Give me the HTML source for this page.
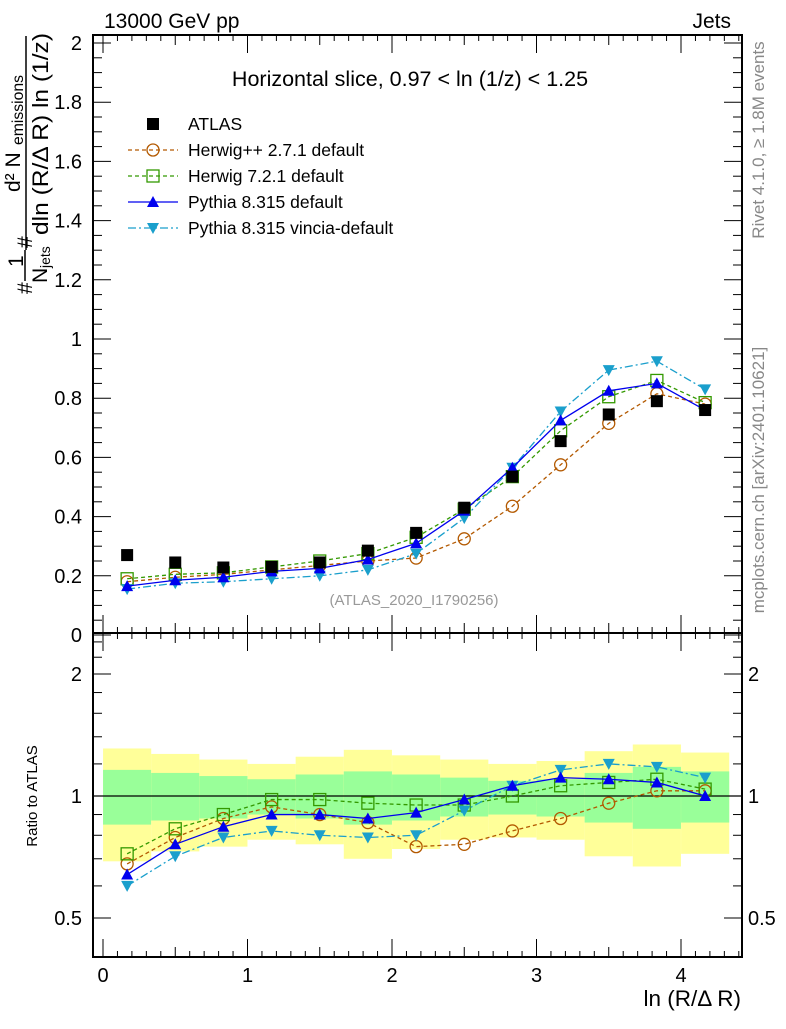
<!DOCTYPE html>
<html><head><meta charset="utf-8"><style>
body{margin:0;background:#fff;}
svg text{font-family:"Liberation Sans",sans-serif;}
</style></head><body>
<svg id="c" width="786" height="1024" xmlns="http://www.w3.org/2000/svg"></svg>
<script>
const xCenters=[0.167,0.5,0.833,1.167,1.5,1.833,2.167,2.5,2.833,3.167,3.5,3.833,4.167];
const binHalf=1/6;
const atlas=[0.27,0.245,0.228,0.23,0.245,0.285,0.345,0.43,0.535,0.655,0.745,0.79,0.76];
const herwigpp=[0.18,0.195,0.205,0.22,0.235,0.25,0.26,0.325,0.435,0.575,0.715,0.815,0.78];
const herwig7=[0.19,0.205,0.21,0.23,0.25,0.275,0.33,0.425,0.535,0.69,0.805,0.86,0.785];
const pythia=[0.165,0.185,0.195,0.215,0.225,0.255,0.31,0.42,0.565,0.725,0.825,0.85,0.76];
const vincia=[0.155,0.175,0.18,0.19,0.2,0.22,0.275,0.395,0.565,0.755,0.895,0.925,0.83];
const rHerwigpp=[0.68,0.79,0.88,0.94,0.90,0.86,0.75,0.76,0.82,0.88,0.96,1.03,1.03];
const rHerwig7=[0.72,0.83,0.90,0.98,0.98,0.96,0.95,0.95,1.0,1.06,1.08,1.10,1.04];
const rPythia=[0.64,0.76,0.84,0.90,0.90,0.88,0.91,0.98,1.06,1.11,1.10,1.08,1.0];
const rVincia=[0.60,0.71,0.79,0.82,0.80,0.79,0.80,0.92,1.06,1.16,1.20,1.18,1.11];
const yellowHi=[1.31,1.27,1.23,1.20,1.25,1.30,1.26,1.23,1.20,1.22,1.29,1.34,1.28];
const yellowLo=[0.69,0.73,0.75,0.78,0.76,0.70,0.74,0.78,0.79,0.78,0.71,0.67,0.72];
const greenHi=[1.16,1.14,1.12,1.10,1.13,1.15,1.13,1.11,1.09,1.10,1.14,1.18,1.15];
const greenLo=[0.85,0.87,0.88,0.90,0.88,0.85,0.87,0.89,0.90,0.89,0.86,0.83,0.86];
const mainTicks=["0","0.2","0.4","0.6","0.8","1","1.2","1.4","1.6","1.8","2"];
const ratioTicks=["0.5","1","2"];
const xTicks=["0","1","2","3","4"];

const L=93,R=742,T=35,MB=633,RB=957;
const X=v=>103+v*144.5;
const Y=v=>635-v*296;
const YR=v=>796-122*Math.log2(v);
const svg=document.getElementById('c');
const NS='http://www.w3.org/2000/svg';
function mk(tag,at,parent){const e=document.createElementNS(NS,tag);for(const k in at)e.setAttribute(k,at[k]);(parent||svg).appendChild(e);return e;}
function txt(s,at,parent){const e=mk('text',at,parent);e.textContent=s;return e;}

const bands=mk('g',{});


xCenters.forEach((c,i)=>{
  const x0=X(c-binHalf),x1=X(c+binHalf);
  const y=mk('rect',{x:x0,y:YR(yellowHi[i]),width:x1-x0,height:YR(yellowLo[i])-YR(yellowHi[i]),fill:'#ffff99'},bands);
  
  
  const g=mk('rect',{x:x0,y:YR(greenHi[i]),width:x1-x0,height:YR(greenLo[i])-YR(greenHi[i]),fill:'#99ff99'},bands);
  
  
});
mk('line',{x1:L,x2:R,y1:YR(1),y2:YR(1),stroke:'#000','stroke-width':1.2});

const f1=mk('rect',{x:L,y:T,width:R-L,height:MB-T,fill:'none',stroke:'#000','stroke-width':2});


const f2=mk('rect',{x:L,y:MB,width:R-L,height:RB-MB,fill:'none',stroke:'#000','stroke-width':2});



for(let k=0;k<=44;k++){
  const v=k/10,x=X(v);if(x>R)break;
  const big=k%10==0,mid=k%5==0;
  const len=big?18:(mid?10:6);
  [[T,1],[MB,-1],[MB,1],[RB,-1]].forEach(([y0,d])=>mk('line',{x1:x,x2:x,y1:y0,y2:y0+d*len,stroke:'#000','stroke-width':1}));
}
xTicks.forEach(s=>{const t=txt(s,{x:X(+s),y:982,'font-size':20,'text-anchor':'middle'});

});
for(let k=0;k<=40;k++){const v=k*0.05,y=Y(v);if(y<T)break;const len=k%4==0?18:9;
  mk('line',{x1:L,x2:L+len,y1:y,y2:y,stroke:'#000'});mk('line',{x1:R,x2:R-len,y1:y,y2:y,stroke:'#000'});}
mainTicks.forEach(s=>{const t=txt(s,{x:82,y:Y(+s)+7,'font-size':20,'text-anchor':'end'});

});
[0.4,0.5,0.6,0.7,0.8,0.9,1,1.2,1.4,1.6,1.8,2,2.2,2.4].forEach(v=>{const y=YR(v);const big=(v==0.5||v==1||v==2);const len=big?18:9;
  mk('line',{x1:L,x2:L+len,y1:y,y2:y,stroke:'#000'});mk('line',{x1:R,x2:R-len,y1:y,y2:y,stroke:'#000'});});
ratioTicks.forEach(s=>{const t=txt(s,{x:82,y:YR(+s)+7,'font-size':20,'text-anchor':'end'});


const t2=txt(s,{x:748,y:YR(+s)+7,'font-size':20});

});

function marker(kind,x,y,col,g){
  if(kind=='sq')return mk('rect',{x:x-6,y:y-6,width:12,height:12,fill:'#000'},g);
  if(kind=='circ')return mk('circle',{cx:x,cy:y,r:6,fill:'none',stroke:col,'stroke-width':1.3},g);
  if(kind=='osq')return mk('rect',{x:x-6,y:y-6,width:12,height:12,fill:'none',stroke:col,'stroke-width':1.3},g);
  if(kind=='tri')return mk('path',{d:`M${x-6},${y+5}L${x+6},${y+5}L${x},${y-6}Z`,fill:col},g);
  if(kind=='itri')return mk('path',{d:`M${x-6},${y-5}L${x+6},${y-5}L${x},${y+6}Z`,fill:col},g);
}
const series=[
 {name:'herwigpp',v:herwigpp,r:rHerwigpp,col:'#b35900',dash:'4,3',m:'circ'},
 {name:'herwig7',v:herwig7,r:rHerwig7,col:'#339900',dash:'4,3',m:'osq'},
 {name:'vincia',v:vincia,r:rVincia,col:'#1a9fcc',dash:'8,3,2,3',m:'itri'},
 {name:'pythia',v:pythia,r:rPythia,col:'#0000ee',dash:'',m:'tri'}];
series.forEach(s=>{
  [[s.v,Y,'main'],[s.r,YR,'ratio']].forEach(([arr,fy,pan])=>{
    const g=mk('g',{});
    
    
    const pts=arr.map((v,i)=>X(xCenters[i])+','+fy(v)).join(' ');
    mk('polyline',{points:pts,fill:'none',stroke:s.col,'stroke-width':1.3,'stroke-dasharray':s.dash},g);
    arr.forEach((v,i)=>marker(s.m,X(xCenters[i]),fy(v),s.col,g));
  });
});
const ga=mk('g',{});


atlas.forEach((v,i)=>marker('sq',X(xCenters[i]),Y(v),'#000',ga));

const leg=[['ATLAS','sq','#000',null],['Herwig++ 2.7.1 default','circ','#b35900','4,3'],['Herwig 7.2.1 default','osq','#339900','4,3'],['Pythia 8.315 default','tri','#0000ee',''],['Pythia 8.315 vincia-default','itri','#1a9fcc','8,3,2,3']];
leg.forEach((l,i)=>{const y=124+i*26;const g=mk('g',{});
  
  
  if(l[3]!==null)mk('line',{x1:128,x2:178,y1:y,y2:y,stroke:l[2],'stroke-width':1.3,'stroke-dasharray':l[3]},g);
  marker(l[1],153,y,l[2],g);
  txt(l[0],{x:188,y:y+6,'font-size':17.5},g);});

let t;
t=txt('Horizontal slice, 0.97 < ln (1/z) < 1.25',{x:410,y:86,'font-size':21.5,'text-anchor':'middle'});

t=txt('13000 GeV pp',{x:104,y:28,'font-size':21});

t=txt('Jets',{x:731,y:28,'font-size':21,'text-anchor':'end'});

t=txt('(ATLAS_2020_I1790256)',{x:414,y:605,'font-size':15,fill:'#999','text-anchor':'middle'});

t=txt('Rivet 4.1.0, ≥ 1.8M events',{x:0,y:0,'font-size':17,fill:'#888','text-anchor':'middle',transform:'translate(764,140) rotate(-90)'});

t=txt('mcplots.cern.ch [arXiv:2401.10621]',{x:0,y:0,'font-size':17,fill:'#888','text-anchor':'middle',transform:'translate(764,480) rotate(-90)'});

t=txt('ln (R/Δ R)',{x:741,y:1006,'font-size':22.5,'text-anchor':'end'});

t=txt('Ratio to ATLAS',{x:0,y:0,'font-size':15,'text-anchor':'middle',transform:'translate(37,796) rotate(-90)'});

const yt=mk('g',{});


txt('#',{x:0,y:0,'font-size':21,transform:'translate(32,294) rotate(-90)'},yt);
txt('1',{x:0,y:0,'font-size':21,transform:'translate(23,267) rotate(-90)'},yt);
mk('line',{x1:25,x2:25,y1:281,y2:250,stroke:'#000','stroke-width':1.5},yt);
txt('N',{x:0,y:0,'font-size':21,transform:'translate(47,283) rotate(-90)'},yt);
txt('jets',{x:0,y:0,'font-size':14,transform:'translate(50,268) rotate(-90)'},yt);
txt('#',{x:0,y:0,'font-size':21,transform:'translate(32,248) rotate(-90)'},yt);
txt('d² N',{x:0,y:0,'font-size':21,transform:'translate(20,192) rotate(-90)'},yt);
txt('emissions',{x:0,y:0,'font-size':15.5,'textLength':70,'lengthAdjust':'spacingAndGlyphs',transform:'translate(23,145) rotate(-90)'},yt);
mk('line',{x1:26,x2:26,y1:250,y2:36,stroke:'#000','stroke-width':1.5},yt);
txt('dln (R/Δ R) ln (1/z)',{x:0,y:0,'font-size':22,'textLength':202,'lengthAdjust':'spacingAndGlyphs',transform:'translate(48,235) rotate(-90)'},yt);
</script>
</body></html>
